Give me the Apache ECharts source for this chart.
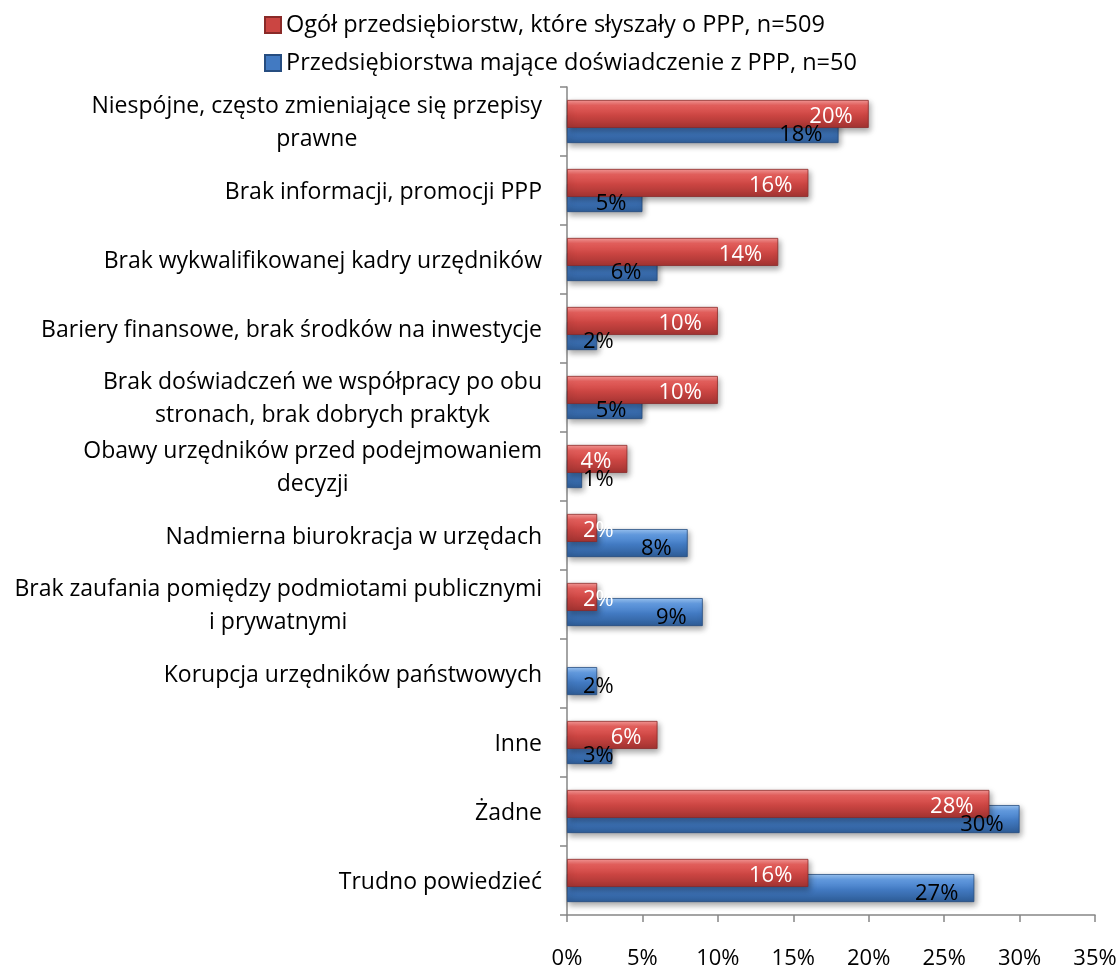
<!DOCTYPE html>
<html>
<head>
<meta charset="utf-8">
<script src="https://cdn.jsdelivr.net/npm/echarts@6/dist/echarts.min.js"></script>
<style>
  html, body { margin: 0; padding: 0; background: #fff; }
  #chart { width: 1120px; height: 969px; }
</style>
</head>
<body>
<div id="chart"></div>
<script>
// categories, top to bottom
const categories = [
  'Niespójne, często zmieniające się przepisy\nprawne',
  'Brak informacji, promocji PPP',
  'Brak wykwalifikowanej kadry urzędników',
  'Bariery finansowe, brak środków na inwestycje',
  'Brak doświadczeń we współpracy po obu\nstronach, brak dobrych praktyk',
  'Obawy urzędników przed podejmowaniem\ndecyzji',
  'Nadmierna biurokracja w urzędach',
  'Brak zaufania pomiędzy podmiotami publicznymi\ni prywatnymi',
  'Korupcja urzędników państwowych',
  'Inne',
  'Żadne',
  'Trudno powiedzieć'
];

const seriesNames = [
  'Ogół przedsiębiorstw, które słyszały o PPP, n=509',
  'Przedsiębiorstwa mające doświadczenie z PPP, n=50'
];

const allCompanies = [20, 16, 14, 10, 10, 4, 2, 2, 0, 6, 28, 16];
const experienced = [18, 5, 6, 2, 5, 1, 8, 9, 2, 3, 30, 27];

const xTicks = { min: 0, max: 35, interval: 5 };

const FONT = 'Open Sans';
const BAR_W = 28;

const redFill = new echarts.graphic.LinearGradient(0, 0, 0, 1, [
  { offset: 0, color: '#f79a98' },
  { offset: 0.2, color: '#e7605d' },
  { offset: 0.55, color: '#cb4542' },
  { offset: 1, color: '#a23331' }
]);
const blueFill = new echarts.graphic.LinearGradient(0, 0, 0, 1, [
  { offset: 0, color: '#9cc6f5' },
  { offset: 0.2, color: '#649de3' },
  { offset: 0.55, color: '#427ac2' },
  { offset: 1, color: '#2e5c96' }
]);

// small bars: label sticks to the bar start, otherwise near the end
function labelFor(v, color, dy) {
  return {
    show: v > 0,
    position: v < 4 ? 'insideLeft' : 'insideRight',
    distance: 16,
    offset: [0, dy],
    color: color,
    fontFamily: FONT,
    fontSize: 22,
    formatter: '{c}%'
  };
}

const chart = echarts.init(document.getElementById('chart'), null, { renderer: 'canvas' });

const barStyle = (fill, border) => ({
  color: fill,
  borderColor: border,
  borderWidth: 0.8,
  shadowColor: 'rgba(0,0,0,0.35)',
  shadowBlur: 6,
  shadowOffsetX: 2,
  shadowOffsetY: 3
});

const option = {
  animation: false,
  textStyle: { fontFamily: FONT },
  legend: {
    orient: 'vertical',
    left: 259,
    top: 8,
    itemWidth: 16,
    itemHeight: 16,
    itemGap: 14,
    icon: 'rect',
    textStyle: { fontFamily: FONT, fontSize: 23.5, color: '#000' },
    data: seriesNames.map((n, i) => ({
      name: n,
      itemStyle: { color: i === 0 ? '#cb4542' : '#427ac2' }
    }))
  },
  grid: {
    left: 567,
    right: 25,
    top: 87,
    bottom: 54,
    outerBoundsMode: 'none'
  },
  xAxis: {
    type: 'value',
    min: xTicks.min,
    max: xTicks.max,
    interval: xTicks.interval,
    splitLine: { show: false },
    axisLine: { show: true, lineStyle: { color: '#868686', width: 1.5 } },
    axisTick: { show: true, length: 7, lineStyle: { color: '#868686', width: 1.5 } },
    axisLabel: {
      formatter: '{value}%',
      margin: 33,
      fontFamily: FONT,
      fontSize: 22,
      color: '#000'
    }
  },
  yAxis: [
    {
      type: 'category',
      inverse: true,
      data: categories,
      axisLine: { show: true, lineStyle: { color: '#868686', width: 1.5 } },
      axisTick: { show: true, length: 7, lineStyle: { color: '#868686', width: 1.5 } },
      axisLabel: {
        margin: 25,
        align: 'right',
        color: '#000',
        fontFamily: FONT,
        fontSize: 23,
        lineHeight: 33,
        padding: [3, 0, 0, 0],
        formatter: v => v.split('\n').map(s => '{c|' + s + '}').join('\n'),
        rich: {
          c: { align: 'center', fontFamily: FONT, fontSize: 23, lineHeight: 33, color: '#000' }
        }
      }
    },
    {
      // hidden twin axis, only carries the labels of the blue bars above everything
      type: 'category',
      inverse: true,
      data: categories,
      show: false
    }
  ],
  series: [
    {
      name: seriesNames[0],
      type: 'bar',
      barWidth: BAR_W,
      barGap: '-46%',
      z: 3,
      itemStyle: barStyle(redFill, '#8a2a28'),
      data: allCompanies.map(v => ({
        value: v === 0 ? null : v,
        label: labelFor(v, '#fff', 3)
      }))
    },
    {
      name: seriesNames[1],
      type: 'bar',
      barWidth: BAR_W,
      barGap: '-46%',
      z: 2,
      itemStyle: barStyle(blueFill, '#264d80'),
      data: experienced
    },
    {
      name: 'labels',
      type: 'bar',
      yAxisIndex: 1,
      barWidth: BAR_W,
      z: 6,
      silent: true,
      itemStyle: { color: 'rgba(0,0,0,0)' },
      data: experienced.map(v => ({
        value: v,
        label: labelFor(v, '#000', 3 + BAR_W * 0.27 + 3)
      }))
    }
  ]
};

chart.setOption(option);
</script>
</body>
</html>
